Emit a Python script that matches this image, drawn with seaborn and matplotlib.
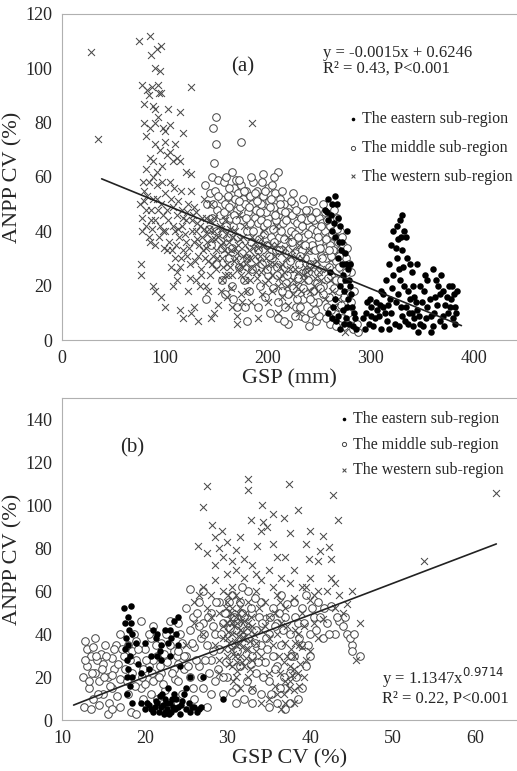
import numpy as np
import pandas as pd
import matplotlib
matplotlib.use("Agg")
import matplotlib.pyplot as plt
import seaborn as sns

# ---- panel (a): GSP (mm) vs ANPP CV (%) ----
a_west = [
    [28, 106], [35, 74], [75, 110], [85, 112], [86, 105], [90, 100], [92, 107], [96, 108], [95, 99],
    [78, 94], [83, 92], [84, 90], [87, 93], [93, 94], [94, 91], [96, 91], [80, 87], [88, 86], [90, 85],
    [103, 85], [115, 84], [125, 93], [185, 80], [80, 80], [85, 78], [82, 75], [90, 80], [93, 82],
    [98, 78], [100, 77], [105, 79], [110, 72], [108, 66], [112, 67], [100, 73], [95, 70], [90, 72],
    [88, 66], [85, 67], [82, 63], [92, 62], [97, 64], [105, 69], [115, 66], [120, 62], [125, 61],
    [102, 68], [118, 76],
    [76, 50], [78, 45], [80, 55], [82, 42], [84, 58], [86, 48], [88, 52], [90, 44], [92, 57], [94, 38],
    [96, 50], [98, 46], [100, 54], [78, 40], [85, 36], [90, 35], [95, 42], [100, 40], [88, 60], [97, 58],
    [102, 48], [104, 36], [106, 52], [108, 42], [110, 30], [112, 46], [114, 38], [116, 55], [118, 33],
    [120, 44], [122, 50], [124, 28], [126, 40], [128, 36], [130, 47], [132, 31], [134, 42], [136, 38],
    [138, 52], [140, 34], [142, 29], [144, 44], [146, 37], [148, 40], [150, 26], [105, 58], [115, 27],
    [125, 55], [135, 26], [145, 50], [110, 40], [120, 36], [130, 40], [140, 45], [150, 33],
    [103, 44], [107, 33], [113, 51], [117, 42], [121, 31], [127, 46], [131, 37], [137, 33], [141, 39],
    [147, 31], [153, 42], [117, 48], [109, 56], [99, 34], [93, 48], [87, 41], [83, 53], [79, 58],
    [152, 38], [155, 30], [158, 44], [160, 28], [162, 36], [165, 24], [168, 40], [170, 32], [172, 46],
    [175, 27], [178, 35], [180, 30], [183, 22], [185, 38], [188, 28], [190, 34], [193, 25], [195, 40],
    [198, 30], [200, 22], [157, 33], [167, 29], [177, 42], [187, 31], [197, 27], [163, 41], [173, 37],
    [181, 25], [191, 29], [161, 32], [171, 26], [156, 36], [176, 31], [186, 34], [196, 35],
    [203, 35], [206, 28], [210, 20], [213, 32], [216, 25], [220, 38], [224, 22], [228, 30], [232, 18],
    [236, 27], [240, 33], [245, 20], [250, 25], [255, 15], [260, 22], [265, 12], [208, 42], [218, 30],
    [230, 35], [242, 26], [212, 27], [222, 31], [234, 24], [248, 29], [226, 26],
    [77, 28], [77, 24], [88, 20], [90, 18], [96, 16], [100, 12], [108, 20], [112, 22], [115, 11],
    [118, 8], [122, 18], [125, 10], [128, 12], [132, 7], [135, 24], [140, 20], [145, 8], [148, 10],
    [152, 13], [155, 22], [160, 16], [165, 12], [170, 9], [175, 14], [180, 18], [190, 8], [200, 14],
    [210, 10], [220, 13], [230, 10], [275, 3], [170, 6], [130, 22], [142, 18],
    [111, 35], [113, 41], [116, 30], [119, 39], [121, 47], [123, 34], [126, 44], [129, 29], [131, 43],
    [133, 35], [136, 45], [139, 30], [141, 36], [143, 41], [146, 28], [149, 37], [151, 30], [154, 35],
    [156, 27], [159, 39], [161, 24], [164, 33], [166, 38], [169, 30], [171, 35], [174, 24], [176, 38],
    [179, 28], [182, 33], [184, 27], [187, 36], [189, 23], [192, 31], [194, 35], [197, 21], [199, 33],
    [202, 28], [204, 24], [207, 31], [209, 35], [211, 23], [214, 28], [217, 34], [219, 20], [221, 26],
    [223, 33], [227, 20], [229, 25], [233, 30], [235, 22], [238, 25], [241, 18], [244, 28], [246, 23],
    [249, 18], [252, 22], [257, 26], [262, 18], [268, 15], [154, 41], [158, 24], [163, 27], [168, 34],
    [173, 28], [178, 22], [183, 30], [188, 25], [193, 37], [148, 45], [138, 41], [128, 49], [118, 45],
    [108, 49], [98, 40], [92, 52], [86, 44], [82, 48], [80, 51], [84, 38], [102, 33], [106, 27],
    [112, 25], [124, 23], [134, 20], [144, 24], [154, 18], [164, 19], [174, 17], [184, 14], [194, 17],
    [204, 18], [214, 16], [224, 17],
]

a_mid = [
    [150, 82], [147, 78], [150, 72], [174, 73], [148, 65], [210, 62], [195, 61], [206, 60], [165, 62],
    [140, 15], [141, 50], [139, 57], [145, 35], [146, 45], [144, 54], [146, 60], [150, 40], [151, 48],
    [149, 55], [152, 59], [150, 28], [155, 22], [156, 44], [154, 52], [157, 58], [155, 34], [160, 46],
    [161, 53], [159, 60], [160, 38], [162, 30], [165, 20], [166, 42], [164, 50], [167, 56], [165, 34],
    [170, 48], [171, 54], [169, 59], [170, 38], [172, 27], [170, 12], [175, 44], [176, 52], [174, 57],
    [175, 32], [177, 22], [180, 40], [181, 47], [179, 55], [180, 30], [182, 18], [180, 7], [185, 50],
    [186, 58], [184, 36], [185, 26], [187, 45], [190, 43], [191, 52], [189, 55], [190, 33], [192, 20],
    [190, 12], [195, 48], [196, 39], [194, 28], [195, 53], [197, 16], [200, 45], [201, 51], [199, 35],
    [200, 24], [202, 10], [200, 56], [205, 41], [206, 49], [204, 30], [205, 19], [207, 54], [210, 46],
    [211, 38], [209, 27], [210, 14], [212, 52], [210, 8], [215, 43], [216, 50], [214, 33], [215, 22],
    [217, 12], [220, 47], [221, 36], [219, 28], [220, 17], [222, 40], [220, 6], [225, 44], [226, 32],
    [224, 24], [225, 50], [227, 12], [230, 41], [231, 35], [229, 20], [230, 47], [232, 9], [230, 28],
    [235, 45], [236, 30], [234, 15], [235, 38], [237, 25], [240, 42], [241, 33], [239, 22], [240, 48],
    [242, 10], [240, 5], [245, 39], [246, 28], [244, 18], [245, 44], [247, 7], [250, 36], [251, 26],
    [249, 14], [250, 45], [252, 31], [250, 9], [255, 40], [256, 30], [254, 20], [255, 34], [257, 12],
    [255, 47], [260, 35], [261, 24], [259, 16], [260, 42], [262, 28], [260, 6], [265, 38], [266, 22],
    [264, 30], [265, 10], [267, 45], [270, 33], [271, 26], [269, 18], [270, 40], [272, 8], [275, 20],
    [276, 30], [274, 5], [275, 14], [282, 8], [283, 4], [281, 25], [288, 3], [287, 6],
    [143, 41], [153, 46], [158, 50], [163, 45], [168, 52], [173, 49], [178, 50], [183, 53], [188, 48],
    [193, 50], [198, 47], [203, 52], [208, 44], [213, 48], [218, 44], [223, 46], [228, 43], [233, 42],
    [238, 44], [243, 41], [248, 40], [253, 43], [258, 38], [263, 40], [268, 36], [273, 35],
    [183, 43], [193, 44], [203, 38], [213, 40], [223, 36], [233, 33], [243, 35], [253, 30], [263, 33],
    [208, 33], [218, 21], [228, 15], [238, 17], [248, 21], [258, 23], [268, 12], [278, 10],
    [147, 50], [152, 53], [157, 47], [162, 56], [167, 46], [172, 51], [177, 55], [182, 49], [187, 54],
    [192, 47], [197, 55], [202, 49], [207, 46], [212, 50], [217, 47], [222, 51], [227, 48], [232, 45],
    [237, 48], [242, 45], [247, 47], [252, 42], [257, 44], [262, 39], [267, 41], [272, 38], [277, 34],
    [186, 40], [196, 42], [206, 36], [216, 37], [226, 39], [236, 35], [246, 33], [256, 37], [266, 29],
    [276, 25], [191, 37], [201, 31], [211, 33], [221, 29], [231, 31], [241, 28], [251, 34], [261, 31],
    [271, 22], [199, 26], [209, 24], [219, 24], [229, 23], [239, 25], [249, 25], [259, 27], [269, 27],
    [279, 17], [214, 18], [224, 19], [234, 19], [244, 14], [254, 17], [264, 19], [274, 16], [231, 12],
    [241, 15], [251, 19], [261, 11], [271, 13], [281, 14], [236, 8], [246, 11], [256, 8], [266, 5],
    [179, 45], [169, 44], [159, 42], [189, 51], [199, 43], [229, 38], [239, 39], [249, 38], [259, 33],
    [269, 31], [279, 28], [284, 18], [226, 9], [216, 7], [166, 15], [158, 17], [178, 12], [172, 59],
    [162, 49], [156, 39], [184, 60], [194, 58], [204, 57], [214, 55], [224, 54], [234, 52], [244, 51],
    [254, 50], [264, 48],
]

a_east = [
    [255, 48], [258, 52], [262, 50], [265, 53], [258, 44], [262, 40], [265, 38], [268, 45], [270, 42],
    [272, 36], [268, 30], [272, 28], [275, 32], [278, 26], [275, 22], [270, 20], [274, 18], [278, 15],
    [280, 20], [282, 12], [276, 8], [279, 6], [283, 5], [258, 10], [262, 8], [266, 7], [270, 4],
    [285, 8], [260, 25], [265, 15], [277, 40], [273, 11], [280, 28],
    [322, 40], [325, 42], [328, 44], [330, 46], [332, 40], [334, 38], [326, 37], [320, 35], [330, 33],
    [335, 30], [338, 28], [340, 25], [325, 30], [318, 28], [322, 24], [328, 22], [332, 20], [336, 18],
    [315, 22], [310, 18], [305, 14], [300, 12], [295, 10], [292, 8], [298, 6], [302, 5], [308, 9],
    [312, 12], [316, 7], [320, 10], [324, 14], [327, 5], [330, 9], [334, 12], [338, 15], [342, 8],
    [345, 11], [348, 6], [350, 14], [352, 18], [355, 12], [358, 9], [360, 5], [362, 16], [365, 20],
    [368, 24], [370, 18], [372, 13], [375, 10], [378, 15], [380, 8], [382, 12], [384, 18], [355, 22],
    [348, 20], [360, 26], [345, 28], [358, 3], [336, 6], [318, 4], [300, 9], [296, 14], [310, 4],
    [370, 9], [376, 20], [382, 6], [342, 16], [312, 17], [306, 11], [326, 17], [340, 10], [346, 3],
    [257, 47], [261, 46], [264, 43], [267, 50], [269, 36], [271, 33], [273, 24], [276, 28], [279, 22],
    [281, 17], [277, 12], [284, 10], [286, 4], [263, 12], [268, 9], [274, 6], [294, 4], [299, 15],
    [304, 8], [309, 13], [314, 10], [319, 15], [323, 6], [329, 12], [333, 7], [337, 10], [341, 5],
    [344, 14], [347, 9], [351, 5], [354, 8], [357, 15], [361, 10], [364, 13], [367, 7], [371, 5],
    [374, 16], [377, 12], [381, 17], [383, 10], [329, 38], [324, 34], [331, 27], [327, 26], [321, 19],
    [317, 13], [341, 20], [353, 24], [363, 22], [367, 17], [379, 20],
]

a_fit_x = [38.5, 388]
a_fit_y = [59.3, 5.3]

# ---- panel (b): GSP CV (%) vs ANPP CV (%) ----
b_west = [
    [26.4, 81], [27, 99], [27.5, 109], [28.1, 91], [27.5, 78], [28.5, 85], [28.5, 72], [29.3, 88],
    [29.5, 76], [30, 83], [30.5, 74], [31, 79], [32.5, 112], [32.5, 107], [32.8, 93], [33.6, 81],
    [34.2, 100], [34.3, 92], [34.8, 90], [36.8, 94], [37.4, 110], [37.6, 87], [41.5, 85.5],
    [42.3, 80.6], [41.2, 78.6], [39.8, 75], [42.5, 75], [42.7, 105], [43.4, 93], [62.5, 105.7],
    [53.8, 74], [35.5, 96], [38.5, 98], [40, 88], [36, 76],
    [26, 55], [27, 62], [28, 58], [28.5, 65], [29, 50], [29.5, 60], [30, 45], [30, 55], [30.5, 40],
    [30.5, 62], [31, 35], [31, 48], [31, 58], [31.5, 30], [31.5, 42], [31.5, 52], [32, 25], [32, 38],
    [32, 46], [32, 66], [32.5, 20], [32.5, 33], [32.5, 55], [33, 28], [33, 44], [33.5, 36], [33.5, 60],
    [30, 30], [30.5, 25], [31, 20], [31.5, 15], [29.5, 38], [29, 28], [30, 68], [31, 70], [33, 72],
    [34, 65], [34.5, 55], [35, 48], [35.5, 62], [36, 58], [36.5, 45], [37, 52], [37.5, 64], [38, 57],
    [38.5, 40], [39, 50], [39.5, 62], [40, 56], [40.5, 45], [41, 38], [41.5, 47], [42, 60], [43, 52],
    [44, 50], [45, 60], [45.5, 28], [46, 45], [34, 30], [35, 22], [35.5, 35], [36, 12], [36.5, 5],
    [37, 8], [37, 18], [37.5, 25], [38, 30], [38, 14], [38.5, 22], [39, 34], [39.5, 28], [36, 40],
    [40, 32], [34, 42], [28, 48], [27, 40], [26, 45], [29, 22], [25, 35], [33, 15], [34, 8], [35, 10],
    [41, 60], [40, 66], [43, 64], [30.2, 36], [30.8, 44], [31.2, 27], [31.8, 34], [30.4, 50],
    [31.3, 39], [30.7, 31], [31.6, 46], [32.2, 29], [30.1, 41], [37.2, 30], [37.8, 21], [38.2, 36],
    [36.8, 27], [37.4, 15], [38.8, 26],
    [29.5, 44], [29.8, 52], [30.1, 58], [30.3, 47], [30.6, 52], [30.9, 37], [31.1, 45], [31.4, 56],
    [31.7, 38], [31.9, 41], [32.1, 50], [32.4, 43], [32.7, 37], [32.9, 48], [33.2, 40], [33.4, 32],
    [30.2, 26], [30.7, 18], [31.2, 23], [31.7, 27], [32.2, 33], [32.7, 24], [30.4, 33], [31.5, 36],
    [30.9, 30], [31.3, 50], [30.6, 45], [30, 38], [29.6, 33], [32.5, 45], [33.8, 52], [34.5, 44],
    [35, 38], [35.8, 50], [36.3, 55], [37.2, 44], [37.7, 33], [38.2, 42], [38.7, 35], [39.2, 44],
    [36.2, 30], [37, 36], [38, 24], [37.5, 18], [36.8, 12], [38, 8], [38.6, 16], [39.3, 20],
    [35.7, 16], [36.4, 22], [28.5, 35], [27.5, 52], [26.5, 58], [32, 75], [33.5, 68], [35, 70],
    [36.5, 66], [38, 70], [39, 62], [40.5, 58], [29, 80], [31.5, 85], [34, 88], [35.5, 82], [37, 76],
    [44.5, 54], [43.5, 58], [42.5, 66], [41, 74], [39.5, 82],
]

b_mid = [
    [12.5, 20], [12.7, 6], [12.8, 37], [13, 33], [13, 25], [13.3, 15], [13.5, 30], [13.7, 10], [14, 38],
    [14, 22], [14.2, 28], [14.5, 18], [14.7, 31], [15, 12], [15, 26], [15.2, 35], [15.5, 3], [15.5, 20],
    [15.7, 8], [16, 29], [16, 15], [16.3, 24], [16.5, 35], [16.7, 11], [17, 40], [17, 19], [17, 6],
    [13.5, 5], [14.5, 7], [16, 5],
    [17.5, 30], [18, 35], [18, 12], [18.3, 4], [18.5, 22], [18.7, 40], [19, 28], [19, 3], [19.5, 46],
    [19.5, 15], [20, 33], [20, 8], [20.5, 25], [20.7, 38], [21, 18], [21, 44], [21.5, 30], [21.5, 10],
    [22, 22], [22, 36], [22.5, 14], [22.7, 27], [23, 40], [23, 8], [23.5, 32], [23.7, 19], [24, 45],
    [24, 26], [24.5, 12], [24.5, 36], [25, 30], [25, 52], [25.5, 20], [25.5, 42], [26, 10], [26, 34],
    [26.5, 55], [26.5, 25], [27, 45], [27, 15], [27, 60], [27.5, 35], [27.5, 6], [28, 28], [28, 50],
    [28.5, 40], [28.5, 18], [29, 55], [29, 33], [29.5, 45], [29.5, 12], [25.5, 61], [19, 37], [23, 46],
    [20, 17], [21, 28], [24, 18], [26.5, 44], [28, 12], [18.5, 32], [19.8, 24], [22.3, 31], [24.8, 24],
    [26.8, 38], [27.8, 22], [25.8, 48], [23.5, 24], [20.8, 12], [17.8, 18],
    [30, 50], [30, 20], [30.5, 58], [30.5, 35], [31, 42], [31, 15], [31.5, 55], [31.5, 25], [32, 48],
    [32, 10], [32.5, 38], [32.5, 60], [33, 30], [33, 50], [33.5, 22], [33.5, 42], [34, 55], [34, 35],
    [34, 12], [34.5, 27], [34.5, 47], [35, 18], [35, 40], [35.5, 52], [35.5, 30], [36, 8], [36, 45],
    [36, 25], [36.5, 58], [36.5, 35], [37, 15], [37, 48], [37.5, 40], [37.5, 22], [38, 55], [38, 30],
    [38.5, 10], [38.5, 45], [39, 35], [39, 52], [39.5, 25], [39.5, 58], [40, 40], [40, 30], [40.5, 48],
    [41, 55], [41.5, 38], [42, 45], [42.5, 53], [43, 40], [43.5, 46], [44, 44], [44.5, 40], [45, 35],
    [45, 32], [35, 6], [37, 5], [33, 8], [29.8, 27], [30.3, 43], [31.2, 32], [32.8, 26], [33.8, 48],
    [34.8, 33], [35.8, 44], [36.8, 20], [33.3, 57], [31.8, 62],
    [12.8, 28], [13.2, 18], [13.8, 34], [14.3, 12], [14.8, 24], [15.3, 30], [15.8, 16], [16.3, 33],
    [16.8, 26], [13.6, 22], [14.1, 30], [15.1, 20], [16.1, 21], [17.2, 33], [17.6, 24], [18.2, 28],
    [18.8, 16], [19.2, 33], [19.7, 20], [20.2, 28], [20.5, 40], [20.9, 22], [21.3, 35], [21.8, 25],
    [22.2, 17], [22.6, 40], [23.1, 35], [23.3, 22], [23.9, 30], [24.3, 40], [24.7, 30], [25.2, 25],
    [25.7, 36], [26.2, 28], [26.3, 50], [26.8, 20], [27.2, 40], [27.7, 48], [28.2, 44], [28.6, 55],
    [28.8, 24], [29.2, 40], [29.7, 50], [30.2, 55], [30.8, 48], [31.3, 45], [31.7, 50], [32.3, 42],
    [32.8, 52], [33.3, 36], [33.7, 27], [34.2, 45], [34.7, 38], [35.2, 48], [35.7, 24], [36.2, 50],
    [36.7, 42], [37.2, 54], [37.7, 30], [38.2, 48], [38.7, 38], [39.2, 45], [39.7, 35], [40.2, 52],
    [40.7, 42], [41.2, 48], [41.7, 52], [42.3, 40], [43.2, 48], [44.2, 48], [44.8, 38], [45.3, 40],
    [46, 30], [38.3, 20], [39, 15], [35.3, 12], [34.3, 20], [32.3, 18], [31, 8], [36.3, 15], [33, 14],
    [37.5, 8], [29.5, 20], [30.5, 13], [25.8, 15], [27.3, 28], [28.3, 32], [24, 32], [21.7, 20],
    [19.8, 10],
]

b_east = [
    [17.5, 52], [18, 48], [18.3, 53], [17.7, 38], [18, 35], [18.2, 30], [17.8, 28], [18, 24], [17.9, 20],
    [18.2, 16], [18.5, 40], [19, 36], [19.5, 8], [20, 5], [20.5, 7], [21, 4], [21, 42], [21.5, 40],
    [22, 6], [22, 35], [22.3, 3], [22.5, 10], [22.7, 5], [23, 8], [23, 42], [23.2, 4], [23.5, 12],
    [23.5, 46], [24, 48], [24, 6], [24.2, 3], [24.5, 9], [25, 5], [25, 15], [25.5, 4], [26, 6],
    [26.5, 5], [27, 20], [22, 28], [21.5, 30], [23, 30], [20.5, 24], [24, 35], [29.5, 10], [21.5, 8],
    [22.8, 15], [18.5, 8], [19.2, 26], [20, 36], [17.6, 45], [21.8, 11], [22.2, 7], [23.8, 10],
    [22.5, 4], [21.2, 6], [23.4, 6],
    [17.6, 33], [18.1, 42], [17.9, 12], [18.4, 20], [18.3, 45], [20.3, 8], [20.8, 5], [21.3, 9],
    [21.7, 4], [22.1, 12], [22.6, 8], [22.9, 3], [23.3, 10], [23.7, 5], [24.4, 7], [24.8, 12],
    [25.3, 8], [25.7, 6], [26.3, 4], [22.4, 42], [23.2, 38], [21.3, 38], [24.3, 25], [21.8, 32],
    [23.8, 40], [22.8, 36], [20.8, 30], [19.5, 22], [25.5, 20], [26.8, 6],
]

b_fit_x = [11.4, 20, 30, 40, 54.3, 62.5]
b_fit_y = [7, 20, 34.5, 49, 70, 82]

labels = ["The eastern sub-region", "The middle sub-region", "The western sub-region"]

sns.set_style("white")
plt.rcParams["font.family"] = ["Liberation Serif", "DejaVu Serif"]

fig = plt.figure(figsize=(5.17, 7.71), dpi=100)
ax1 = fig.add_axes([0.12, 0.559, 0.88, 0.423])
ax2 = fig.add_axes([0.12, 0.066, 0.88, 0.418])


def draw(ax, east, mid, west, fx, fy):
    e = pd.DataFrame(east, columns=["x", "y"])
    m = pd.DataFrame(mid, columns=["x", "y"])
    w = pd.DataFrame(west, columns=["x", "y"])
    sns.scatterplot(data=m, x="x", y="y", ax=ax, marker="o", s=30, facecolor="white",
                    edgecolor="#444444", linewidth=0.7, label=labels[1], zorder=2)
    sns.scatterplot(data=w, x="x", y="y", ax=ax, marker="x", s=25, color="#4a4a4a",
                    linewidth=0.75, label=labels[2], zorder=3)
    sns.scatterplot(data=e, x="x", y="y", ax=ax, marker="o", s=22, color="black",
                    edgecolor="black", linewidth=0, label=labels[0], zorder=4)
    sns.lineplot(x=fx, y=fy, ax=ax, color="#222222", linewidth=1.2, sort=False, zorder=5)
    for sp in ["top", "left", "bottom"]:
        ax.spines[sp].set_color("#b0b0b0")
    ax.spines["right"].set_visible(False)
    ax.tick_params(axis="both", direction="out", length=4, color="#b0b0b0",
                   labelsize=13, pad=3)
    h, l = ax.get_legend_handles_labels()
    order = [l.index(t) for t in labels]
    return [h[i] for i in order]


h1 = draw(ax1, a_east, a_mid, a_west, a_fit_x, a_fit_y)
ax1.set_xlim(0, 442)
ax1.set_ylim(0, 120)
ax1.set_xticks([0, 100, 200, 300, 400])
ax1.set_yticks([0, 20, 40, 60, 80, 100, 120])
ax1.set_xlabel("GSP (mm)", fontsize=16, labelpad=2)
ax1.set_ylabel("ANPP CV (%)", fontsize=16, labelpad=2)
ax1.legend(h1, labels, loc="upper left", bbox_to_anchor=(0.59, 0.746), frameon=False,
           fontsize=11.5, markerscale=0.55, handletextpad=0.1, labelspacing=0.8,
           handlelength=1.0)
ax1.text(0.398, 0.837, "(a)", transform=ax1.transAxes, fontsize=15, ha="center", va="center")
ax1.text(0.574, 0.856, "y = -0.0015x + 0.6246\nR² = 0.43, P<0.001", transform=ax1.transAxes,
         fontsize=12, ha="left", va="center", linespacing=0.95)

h2 = draw(ax2, b_east, b_mid, b_west, b_fit_x, b_fit_y)
ax2.set_xlim(10, 65)
ax2.set_ylim(0, 150)
ax2.set_xticks([10, 20, 30, 40, 50, 60])
ax2.set_yticks([0, 20, 40, 60, 80, 100, 120, 140])
ax2.set_xlabel("GSP CV (%)", fontsize=16, labelpad=2)
ax2.set_ylabel("ANPP CV (%)", fontsize=16, labelpad=2)
ax2.legend(h2, labels, loc="upper left", bbox_to_anchor=(0.57, 1.004), frameon=False,
           fontsize=11.5, markerscale=0.55, handletextpad=0.1, labelspacing=0.6,
           handlelength=1.0)
ax2.text(0.155, 0.845, "(b)", transform=ax2.transAxes, fontsize=15, ha="center", va="center")
ax2.text(0.703, 0.105, "y = 1.1347x$^{0.9714}$\nR² = 0.22, P<0.001", transform=ax2.transAxes,
         fontsize=12, ha="left", va="center", linespacing=1.0)

fig.savefig("out.png", dpi=100)
